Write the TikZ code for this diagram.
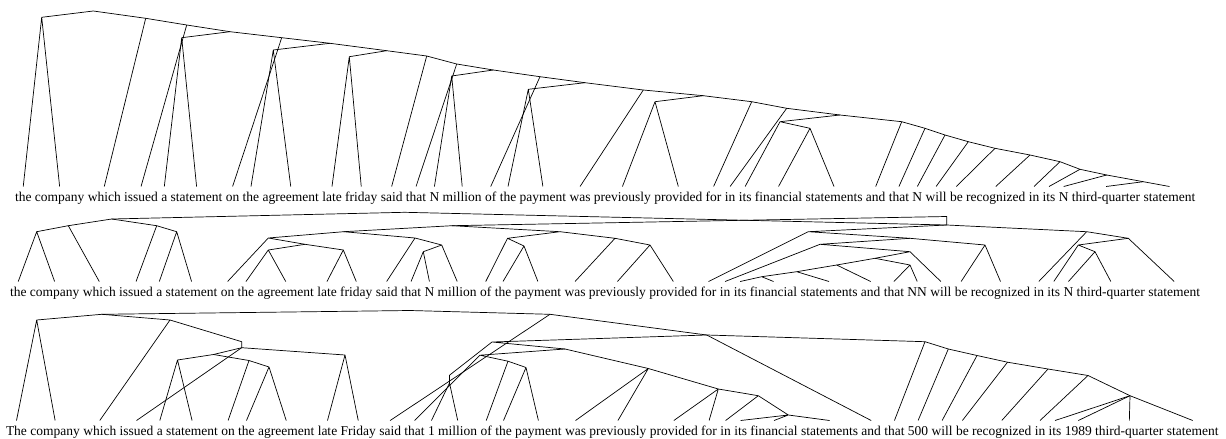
\documentclass[tikz,border=0pt]{standalone}
\usepackage{fontspec}
\setmainfont{Liberation Serif}
\usetikzlibrary{positioning}

% one row of words, with a leaf point above each word
\newcommand\wordrow[3]{%
  \foreach \w [count=\i] in {#3} {%
    \ifnum\i=1
      \node[word, anchor=base west] (#1w1) at (#2) {\w};
    \else
      \pgfmathtruncatemacro\lastw{\i-1}
      \node[word, base right=3.4pt of #1w\lastw] (#1w\i) {\w};
    \fi
    \coordinate (#1\i) at ([yshift=14.5pt]#1w\i.base);
  }%
}

\begin{document}
\begin{tikzpicture}[
  x=1pt, y=-1pt,
  word/.style={inner sep=0pt, outer sep=0pt, font=\fontsize{13.5}{16}\selectfont},
  every path/.style={line width=0.7pt, line join=round}
]
\useasboundingbox (0,0) rectangle (1226,439);

% ---------- tree 1 ----------
\wordrow{A}{15,201}{the,company,which,issued,a,statement,on,the,agreement,late,friday,said,that,N,million,of,the,payment,was,previously,provided,for,in,its,financial,statements,and,that,N,will,be,recognized,in,its,N,third-quarter,statement}
\coordinate (a0) at (93.3,11);
\coordinate (a1) at (41.7,17.3);
\coordinate (a2) at (145.7,18.3);
\coordinate (a3) at (186.7,25);
\coordinate (a4) at (230,31.7);
\coordinate (a5) at (181.7,37.7);
\coordinate (a6) at (281.7,37.7);
\coordinate (a7) at (330,43.3);
\coordinate (a8) at (273.3,50);
\coordinate (a9) at (386.7,50.7);
\coordinate (a10) at (349.3,56.7);
\coordinate (a11) at (426.7,56);
\coordinate (a12) at (456.7,64);
\coordinate (a13) at (493.3,70);
\coordinate (a14) at (451.7,76);
\coordinate (a15) at (540,76.7);
\coordinate (a16) at (585,82.7);
\coordinate (a17) at (528.3,89.3);
\coordinate (a18) at (643.3,90);
\coordinate (a19) at (703.3,95.7);
\coordinate (a20) at (655,101.7);
\coordinate (a21) at (751.7,101.7);
\coordinate (a22) at (786.7,108.3);
\coordinate (a23) at (840,115);
\coordinate (a24) at (780,121.7);
\coordinate (a25) at (810,128.3);
\coordinate (a26) at (901.7,121.7);
\coordinate (a27) at (925,128.3);
\coordinate (a28) at (945,135);
\coordinate (a29) at (968.3,141.7);
\coordinate (a30) at (995,148.3);
\coordinate (a31) at (1030,155);
\coordinate (a32) at (1060,161.7);
\coordinate (a33) at (1080,169.3);
\coordinate (a34) at (1106.7,175);
\coordinate (a35) at (1143.3,181.7);

\draw (a0) -- (a2) -- (a3) -- (a4) -- (a6) -- (a7) -- (a9) -- (a11) -- (a12) -- (a13)
  -- (a15) -- (a16) -- (a18) -- (a19) -- (a21) -- (a22) -- (a23) -- (a26) -- (a27)
  -- (a28) -- (a29) -- (a30) -- (a31) -- (a32) -- (a33) -- (a34) -- (a35) -- (A37);
\draw (A1) -- (a1) -- (A2) (a1) -- (a0);
\draw (a2) -- (A3) (a3) -- (A4) (a6) -- (A7) (a11) -- (A12) (a12) -- (A13)
  (a15) -- (A16) (a18) -- (A19) (a21) -- (A22) (a22) -- (A23);
\draw (A5) -- (a5) -- (A6) (a5) -- (a4);
\draw (A8) -- (a8) -- (A9) (a8) -- (a7);
\draw (A10) -- (a10) -- (A11) (a10) -- (a9);
\draw (A14) -- (a14) -- (A15) (a14) -- (a13);
\draw (A17) -- (a17) -- (A18) (a17) -- (a16);
\draw (A20) -- (a20) -- (A21) (a20) -- (a19);
\draw (A24) -- (a24) -- (a23) (a24) -- (a25) (A25) -- (a25) -- (A26);
\foreach \n/\w in {26/27,27/28,28/29,29/30,30/31,31/32,32/33,33/34,34/35,35/36}
  \draw (a\n) -- (A\w);

% ---------- tree 2 ----------
\wordrow{B}{10,296}{the,company,which,issued,a,statement,on,the,agreement,late,friday,said,that,N,million,of,the,payment,was,previously,provided,for,in,its,financial,statements,and,that,NN,will,be,recognized,in,its,N,third-quarter,statement}
\coordinate (b0) at (404.7,212.3);
\coordinate (b1) at (111.7,219);
\coordinate (b2) at (68.3,225.7);
\coordinate (b3) at (36.7,231.7);
\coordinate (b4) at (156.7,225.7);
\coordinate (b5) at (176.7,231.7);
\coordinate (b6) at (452,225.7);
\coordinate (b7) at (343.7,231.7);
\coordinate (b8) at (268.3,238);
\coordinate (b9) at (305,244.3);
\coordinate (b10) at (268.3,250);
\coordinate (b11) at (343.3,250);
\coordinate (b12) at (415,238);
\coordinate (b13) at (441.7,245);
\coordinate (b14) at (423.3,251.7);
\coordinate (b15) at (560,231.7);
\coordinate (b16) at (507.5,238.3);
\coordinate (b17) at (524,246);
\coordinate (b18) at (615,238.3);
\coordinate (b19) at (650,245);
\coordinate (b20) at (946.7,216.5);
\coordinate (b21) at (946.7,225);
\coordinate (b22) at (808.3,231.7);
\coordinate (b23) at (910,238.3);
\coordinate (b24) at (985,245);
\coordinate (b25) at (820,244.3);
\coordinate (b26) at (910,251.7);
\coordinate (b27) at (875,258.3);
\coordinate (b28) at (910,265);
\coordinate (b29) at (836.7,265);
\coordinate (b30) at (796.7,271.7);
\coordinate (b31) at (761.7,276.7);
\coordinate (b32) at (1086.7,231.7);
\coordinate (b33) at (1128.3,238.3);
\coordinate (b34) at (1078.3,245);
\coordinate (b35) at (1095,251.7);

\draw (b1) -- (b0) -- (b21);
\draw (b3) -- (b2) -- (b1) -- (b4) -- (b5);
\draw (B1) -- (b3) -- (B2) (b2) -- (B3) (b4) -- (B4) (B5) -- (b5) -- (B6);
\draw (b6) -- (b20) -- (b21);
\draw (b6) -- (b7) -- (b8) -- (B7) (b8) -- (b9) -- (b11);
\draw (b9) -- (b10) (B8) -- (b10) -- (B9) (B10) -- (b11) -- (B11);
\draw (b7) -- (b12) -- (B12) (b12) -- (b13) -- (B15) (b13) -- (b14);
\draw (B13) -- (b14) -- (B14);
\draw (b6) -- (b15) -- (b16) -- (B16) (b16) -- (b17) (B17) -- (b17) -- (B18);
\draw (b15) -- (b18) -- (B19) (b18) -- (b19) (B20) -- (b19) -- (B21);
\draw (b21) -- (b22) -- (B22) (b22) -- (b23) -- (b24) (B31) -- (b24) -- (B32);
\draw (b23) -- (b25) -- (B23) (b25) -- (b26) -- (B30) (b26) -- (b27) -- (b29);
\draw (b27) -- (b28) (B28) -- (b28) -- (B29);
\draw (b29) -- (B27) (b29) -- (b30) -- (B26) (b30) -- (b31) (B24) -- (b31) -- (B25);
\draw (b21) -- (b32) -- (b33) -- (B37) (b32) -- (B33);
\draw (b33) -- (b34) -- (B34) (b34) -- (b35) (B35) -- (b35) -- (B36);

% ---------- tree 3 ----------
\wordrow{C}{6,435}{The,company,which,issued,a,statement,on,the,agreement,late,Friday,said,that,1,million,of,the,payment,was,previously,provided,for,in,its,financial,statements,and,that,500,will,be,recognized,in,its,1989,third-quarter,statement}
\coordinate (c0) at (410,310.5);
\coordinate (c1) at (101.7,314.3);
\coordinate (c2) at (36.7,320);
\coordinate (c3) at (170,320);
\coordinate (c4) at (241.7,341.7);
\coordinate (c5) at (241.7,347.7);
\coordinate (c6) at (345,355);
\coordinate (c7) at (213.5,354.5);
\coordinate (c8) at (177.5,360);
\coordinate (c9) at (249,360.5);
\coordinate (c10) at (269,367);
\coordinate (c11) at (550,314.3);
\coordinate (c12) at (706.7,335);
\coordinate (c13) at (925,341.7);
\coordinate (c14) at (948.3,349);
\coordinate (c15) at (977,355.5);
\coordinate (c16) at (1007.5,362.2);
\coordinate (c17) at (1048,369);
\coordinate (c18) at (1088,375.5);
\coordinate (c19) at (1130,395.7);
\coordinate (c20) at (492,342);
\coordinate (c21) at (565,349);
\coordinate (c22) at (449.5,375.2);
\coordinate (c23) at (449.5,383);
\coordinate (c24) at (480,355.2);
\coordinate (c25) at (508,361.2);
\coordinate (c26) at (526,367.5);
\coordinate (c27) at (648.3,368.5);
\coordinate (c28) at (718.3,389);
\coordinate (c29) at (758.3,395.7);
\coordinate (c30) at (788.3,415);

\draw (c1) -- (c0) -- (c11);
\draw (c2) -- (c1) -- (c3) (C1) -- (c2) -- (C2) (c3) -- (C3);
\draw (c3) -- (c4) -- (c5) -- (C4) (c5) -- (c6) (C10) -- (c6) -- (C11);
\draw (c5) -- (c7) -- (c8) (C5) -- (c8) -- (C6);
\draw (c7) -- (c9) -- (c10) (c9) -- (C7) (C8) -- (c10) -- (C9);
\draw (c11) -- (C12) (c11) -- (c12) -- (C27);
\draw (c12) -- (c13) -- (c14) -- (c15) -- (c16) -- (c17) -- (c18) -- (c19) -- (C37);
\foreach \n/\w in {13/28,14/29,15/30,16/31,17/32,18/33,19/34,19/35,19/36}
  \draw (c\n) -- (C\w);
\draw (c12) -- (c20) -- (c21) (c20) -- (c22) -- (c23) (C14) -- (c23) -- (C15);
\draw (c21) -- (c24) -- (C13) (c24) -- (c25) -- (C16) (c25) -- (c26) (C17) -- (c26) -- (C18);
\draw (c21) -- (c27) -- (C19) (c27) -- (C20) (c27) -- (c28) -- (C21) (c28) -- (C22);
\draw (c28) -- (c29) -- (C23) (c29) -- (c30) -- (C24) (c30) -- (C25) (c30) -- (C26);
\end{tikzpicture}
\end{document}
